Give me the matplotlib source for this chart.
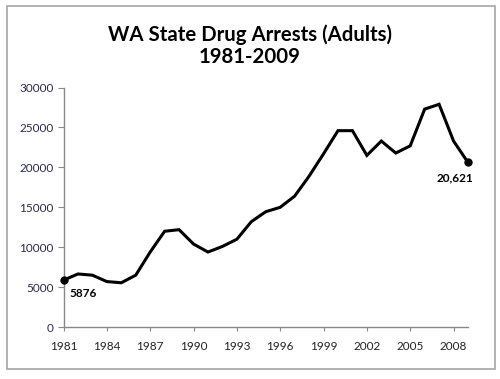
import numpy as np
import matplotlib
matplotlib.use("Agg")
import matplotlib.pyplot as plt
from matplotlib.patches import Rectangle

# Adult drug arrests in Washington State
years = list(range(1981, 2010))
arrests = [5876, 6650, 6500, 5700, 5550, 6500, 9400, 12000, 12200, 10400,
           9400, 10100, 11000, 13200, 14450, 15000, 16400, 18900, 21700, 24600,
           24600, 21500, 23300, 21800, 22700, 27300, 27900, 23300, 20621]
xticks = list(range(1981, 2009, 3))
yticks = [0, 5000, 10000, 15000, 20000, 25000, 30000]

plt.rcParams['font.family'] = ['Lato', 'DejaVu Sans']

fig = plt.figure(figsize=(5.0, 3.79), dpi=100)
ax = fig.add_axes([0.127, 0.137, 0.809, 0.632])

ax.plot(years, arrests, color='black', lw=2.2, solid_joinstyle='miter')
# End markers with labels
ax.plot([years[0], years[-1]], [arrests[0], arrests[-1]], 'o', color='black', ms=5,
        clip_on=False, zorder=5)
ax.annotate(f"{arrests[0]}", (years[0], arrests[0]), xytext=(4.3, -9.5),
            textcoords='offset points', fontsize=8.5, fontweight='bold', va='center')
ax.annotate(f"{arrests[-1]:,}", (years[-1], arrests[-1]), xytext=(3.6, -11),
            textcoords='offset points', fontsize=8.5, fontweight='bold', va='center', ha='right')

ax.set_xlim(1981, 2009)
ax.set_ylim(0, 30000)
ax.set_xticks(xticks)
ax.set_yticks(yticks)
ax.tick_params(axis='x', length=3, color='#888888', labelsize=8.5, labelcolor='#222222', pad=7)
ax.tick_params(axis='y', length=4, color='#888888', labelsize=8.5, labelcolor='#2a2a4a', pad=3)

for side in ['top', 'right']:
    ax.spines[side].set_visible(False)
for side in ['left', 'bottom']:
    ax.spines[side].set_color('#888888')
    ax.spines[side].set_linewidth(1)

fig.text(0.5, 0.88, "WA State Drug Arrests (Adults)\n1981-2009", ha='center', va='center',
         fontsize=14.7, fontweight='bold', linespacing=1.15)

# outer chart border
fig.patches.append(Rectangle((0.013, 0.026), 0.976, 0.958, transform=fig.transFigure,
                             fill=False, edgecolor='#a6a6a6', lw=1.2))

plt.savefig("out.png", dpi=100)
